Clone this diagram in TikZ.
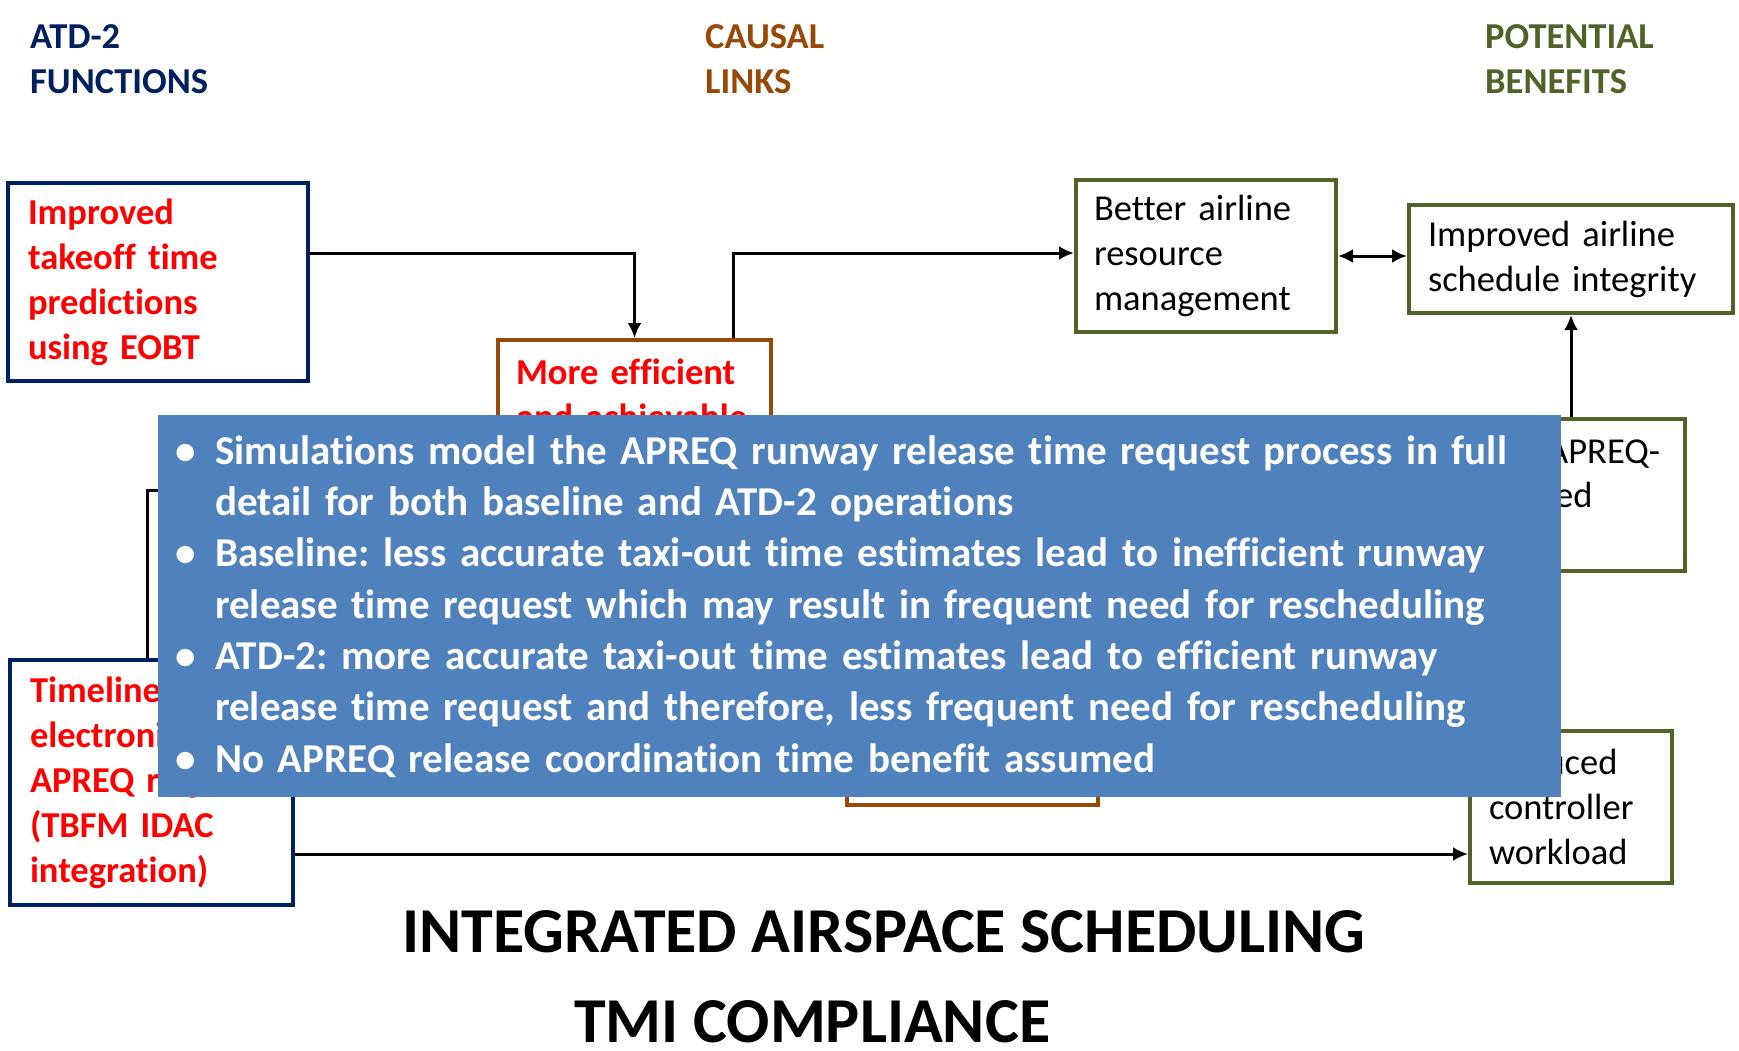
\documentclass[tikz,border=0pt]{standalone}
\usepackage{fontspec}
\setmainfont{Carlito}[Ligatures=NoCommon]
\usetikzlibrary{arrows.meta}
\definecolor{navy}{HTML}{002060}
\definecolor{brownc}{HTML}{984807}
\definecolor{olive}{HTML}{4F6228}
\definecolor{redc}{HTML}{FF0000}
\definecolor{ovl}{HTML}{4F81BD}
\newcommand\bodyfont{\fontsize{36.5pt}{45pt}\selectfont}
\newcommand\blt{\makebox[28pt][c]{•}\hspace*{15pt}}
\newcommand\ind{\hspace*{43pt}}
\frenchspacing
\begin{document}
\begin{tikzpicture}[x=1pt,y=-1pt,
  box/.style={draw, line width=4pt, inner sep=0pt, align=left, font=\bodyfont},
  fn/.style={box, draw=navy, text=redc, font=\bodyfont\bfseries},
  cl/.style={box, draw=brownc, text=redc, font=\bodyfont\bfseries},
  pb/.style={box, draw=olive, text=black},
  conn/.style={line width=3pt, -{Latex[length=15pt,width=14pt]}},
  conn2/.style={line width=3pt, {Latex[length=15pt,width=14pt]}-{Latex[length=15pt,width=14pt]}},
  hdr/.style={anchor=base west, inner sep=0pt, font=\bodyfont\bfseries},
  frag/.style={anchor=base west, inner sep=0pt, font=\bodyfont},
  ttl/.style={anchor=base west, inner sep=0pt, font=\fontsize{64pt}{70pt}\selectfont\bfseries},
]
\useasboundingbox (0,0) rectangle (1739,1051);
% headers
\node[hdr, text=navy] (h1a) at (30,49) {ATD-2};
\node[hdr, text=navy] (h1b) at (30,94) {FUNCTIONS};
\node[hdr, text=brownc] (h2a) at (705,49) {CAUSAL};
\node[hdr, text=brownc] (h2b) at (705,94) {LINKS};
\node[hdr, text=olive] (h3a) at (1485,49) {POTENTIAL};
\node[hdr, text=olive] (h3b) at (1485,94) {BENEFITS};
% boxes
\node[fn, minimum width=300pt, minimum height=198pt, text width=260pt] (A) at (158,282) {Improved\\takeoff time\\predictions\\using EOBT};
\node[cl, minimum width=273pt, minimum height=198pt, text width=237pt] (B) at (634.5,439) {More efficient\\and achievable\\APREQ release\\times};
\node[pb, minimum width=260pt, minimum height=152pt, text width=224pt] (C) at (1206,256) {Better airline\\resource\\management};
\node[pb, minimum width=324pt, minimum height=108pt, text width=286pt] (D) at (1571,259) {Improved airline\\schedule integrity};
\node[pb, minimum width=203pt, minimum height=152pt] (E) at (1583.5,495) {};
\node[frag] (Et1) at (1547,463) {APREQ-};
\node[frag] (Et2) at (1555,507) {ed};
\node[pb, minimum width=202pt, minimum height=152pt, text width=164pt] (F) at (1571,807) {Reduced\\controller\\workload};
\node[fn, minimum width=283pt, minimum height=245pt, text width=243pt] (G) at (151.5,782.5) {Timeline\\electronic\\\mbox{APREQ requests}\\(TBFM IDAC\\integration)};
\node[cl, minimum width=251pt, minimum height=143pt] (H) at (972.5,733.5) {};
% connectors
\draw[conn] ([yshift=29pt]A.east) -| (B.north);
\draw[conn] ([xshift=98.5pt]B.north) |- ([yshift=3pt]C.west);
\draw[conn2] (C.east) -- (C.east -| D.west);
\draw[conn] (D.south |- E.north) -- (D.south);
\draw[conn] ([xshift=-4.5pt]G.north) |- ([yshift=-51pt]B.west);
\draw[conn] ([yshift=-71.5pt]G.east) -- ([yshift=-71.5pt]G.east -| F.west);
% overlay
\node[fill=ovl, minimum width=1403pt, minimum height=382pt, inner sep=0pt] (ov) at (859.5,606) {};
\node[anchor=north west, inner sep=0pt, text width=1385pt, align=left, text=white,
      font=\fontsize{41pt}{51.3pt}\selectfont\bfseries] (ovt) at (172,430)
 {\rule{0pt}{34pt}\blt Simulations model the APREQ runway release time request process in full\\
  \ind detail for both baseline and ATD-2 operations\\
  \blt Baseline: less accurate taxi-out time estimates lead to inefficient runway\\
  \ind release time request which may result in frequent need for rescheduling\\
  \blt ATD-2: more accurate taxi-out time estimates lead to efficient runway\\
  \ind release time request and therefore, less frequent need for rescheduling\\
  \blt No APREQ release coordination time benefit assumed};
% title
\node[ttl] (t1) at (402,952) {INTEGRATED AIRSPACE SCHEDULING};
\node[ttl] (t2) at (574,1042) {TMI COMPLIANCE};
\end{tikzpicture}
\end{document}
